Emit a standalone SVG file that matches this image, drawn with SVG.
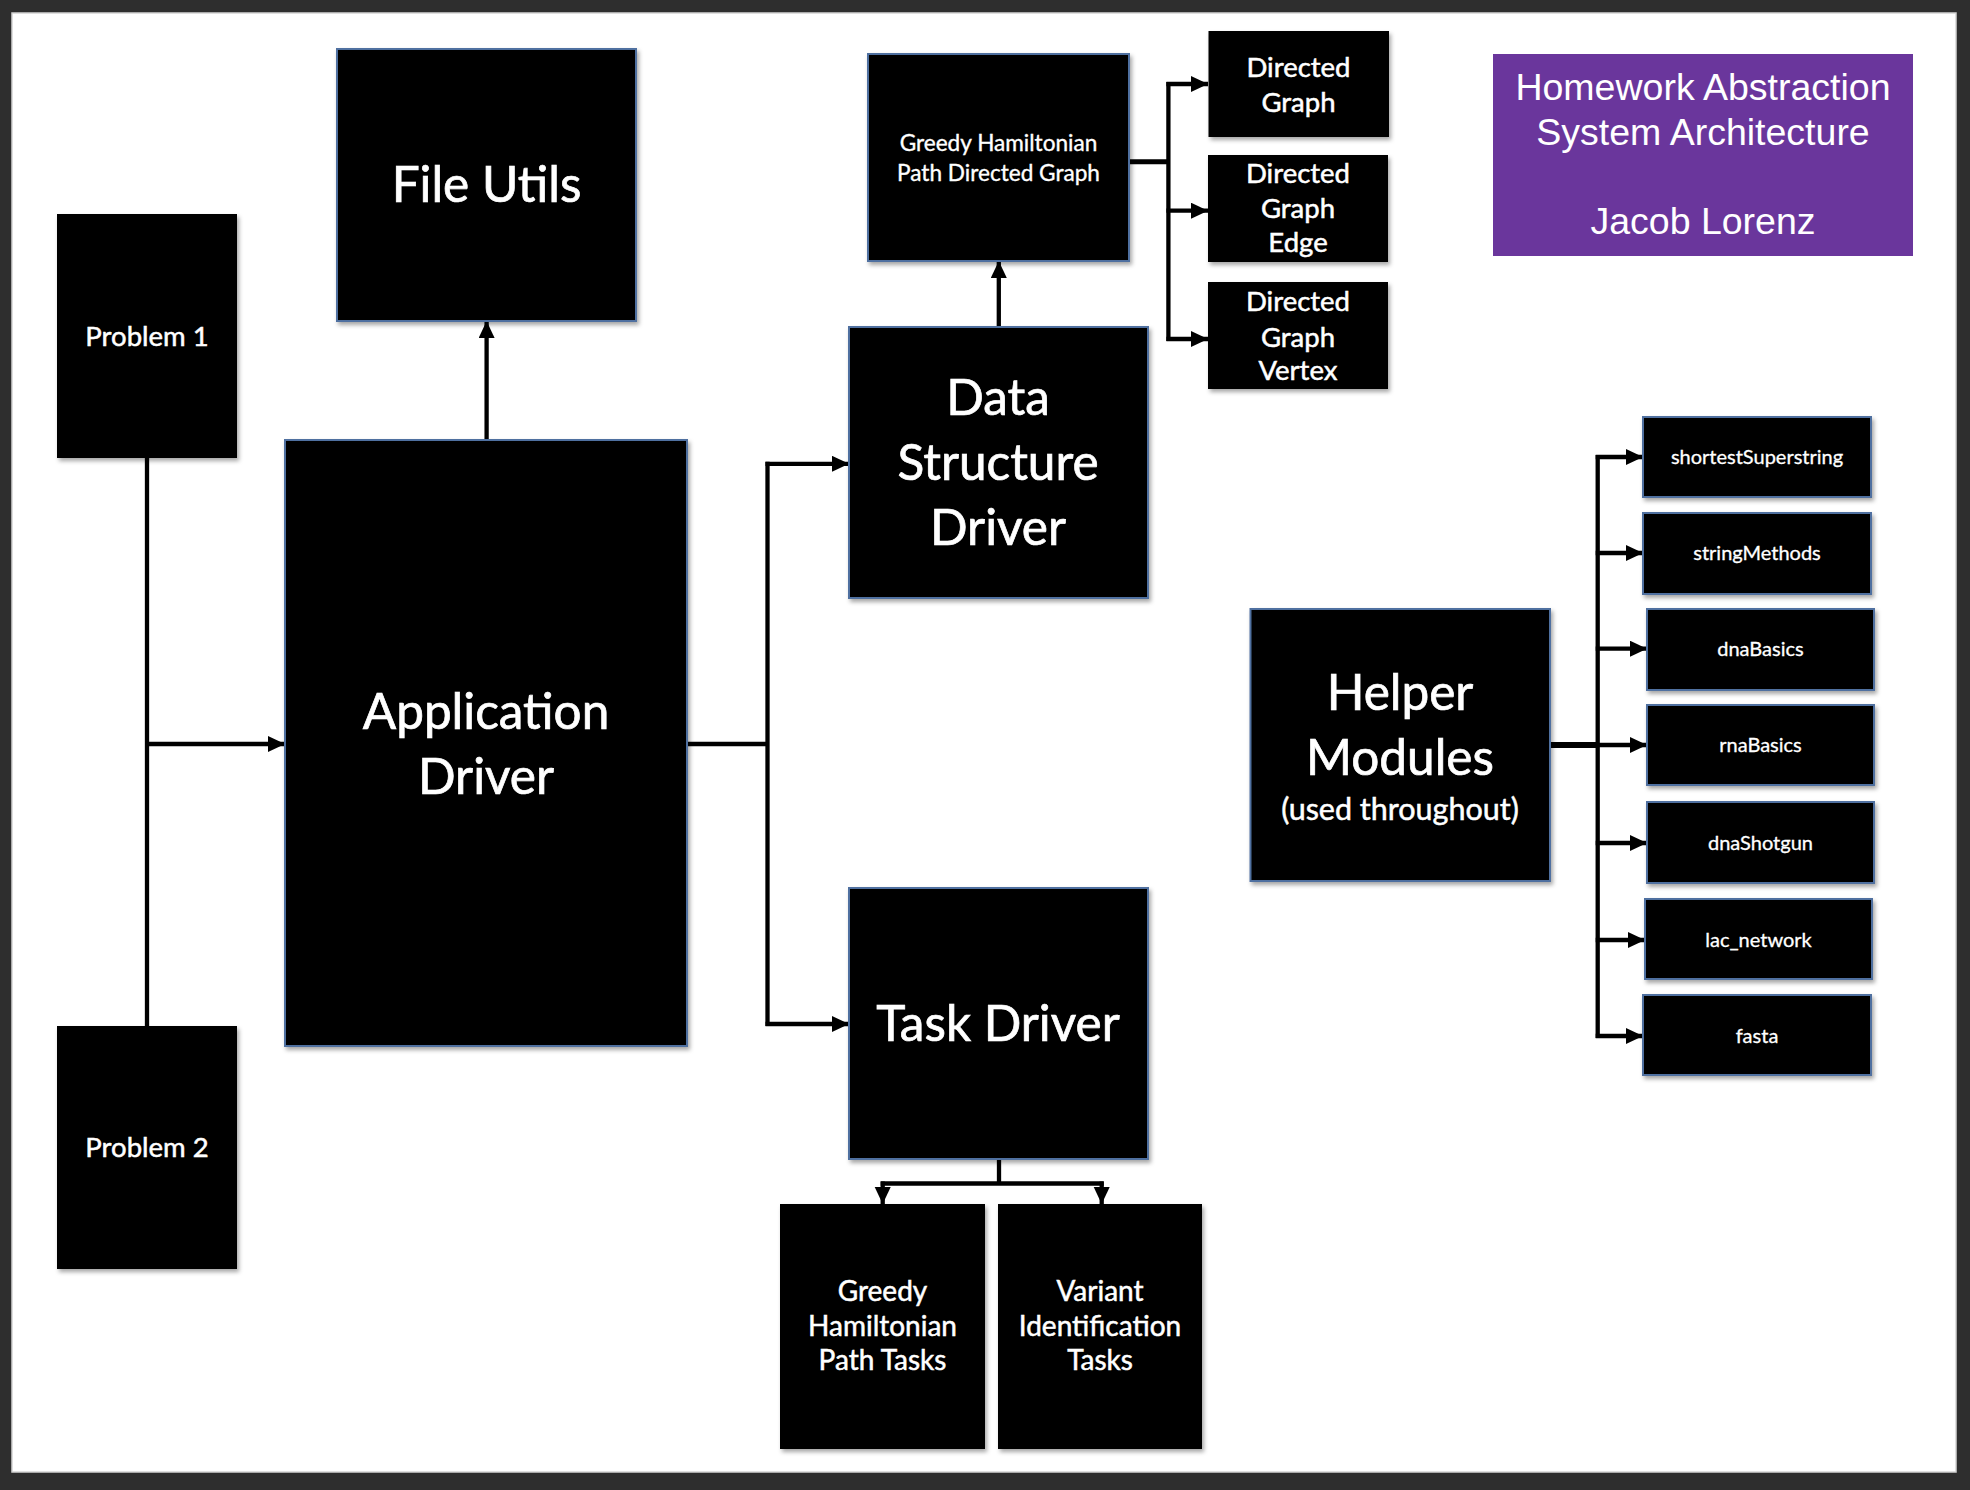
<svg xmlns="http://www.w3.org/2000/svg" width="1970" height="1490" viewBox="0 0 1970 1490">
<style>
.box{fill:#000;stroke:#4f6fa0;stroke-width:2;filter:url(#sh)}
.plain{fill:#000;filter:url(#sh)}
.t{fill:#fff;stroke:#fff;stroke-width:0.5;font-family:Lato,"Open Sans","Noto Sans",sans-serif;text-anchor:middle}
.big{font-size:49.5px;stroke-width:0.7}
.mid{font-size:27.5px}
.sm{font-size:22.6px;stroke-width:0.35}
.xs{font-size:20px;stroke-width:0.3}
.title{fill:#fff;font-family:"Liberation Sans",Arial,sans-serif;font-size:37.5px;text-anchor:middle}
.c{stroke:#000;stroke-width:4.3;fill:none}
.a{marker-end:url(#ah)}
</style>
<defs>
<filter id="sh" x="-10%" y="-10%" width="130%" height="130%">
<feDropShadow dx="2" dy="3" stdDeviation="2" flood-color="#000" flood-opacity="0.35"/>
</filter>
<marker id="ah" markerUnits="userSpaceOnUse" markerWidth="18" markerHeight="17" refX="17" refY="8" orient="auto">
<path d="M0,0 L17,8 L0,16 z" fill="#000"/>
</marker>
</defs>
<rect x="0" y="0" width="1970" height="1490" fill="#2e2e2e"/>
<rect x="12" y="13" width="1944" height="1459" fill="#fff" stroke="#d4d4d4" stroke-width="1.5"/>

<g id="connectors">
<line class="c" x1="147" y1="457" x2="147" y2="1026"/>
<line class="c a" x1="147" y1="744" x2="285" y2="744"/>
<line class="c a" x1="486.6" y1="440" x2="486.6" y2="321"/>
<line class="c" stroke-width="5" x1="687" y1="744" x2="767.5" y2="744"/>
<line class="c" x1="767.5" y1="461.8" x2="767.5" y2="1026"/>
<line class="c a" x1="765.5" y1="463.8" x2="849" y2="463.8"/>
<line class="c a" x1="765.5" y1="1024" x2="849" y2="1024"/>
<line class="c a" x1="998.8" y1="327" x2="998.8" y2="261"/>
<line class="c" style="stroke-width:5" x1="1129" y1="161.7" x2="1168.4" y2="161.7"/>
<line class="c" x1="1168.4" y1="82" x2="1168.4" y2="341"/>
<line class="c a" x1="1166.4" y1="84" x2="1208" y2="84"/>
<line class="c a" x1="1166.4" y1="210.7" x2="1208" y2="210.7"/>
<line class="c a" x1="1166.4" y1="339" x2="1208" y2="339"/>
<line class="c" x1="999" y1="1159" x2="999" y2="1183.5"/>
<line class="c" x1="880.7" y1="1183.5" x2="1103.7" y2="1183.5"/>
<line class="c a" x1="882.7" y1="1181.5" x2="882.7" y2="1204"/>
<line class="c a" x1="1101.7" y1="1181.5" x2="1101.7" y2="1204"/>
<line class="c" style="stroke-width:6" x1="1550" y1="745" x2="1597.7" y2="745"/>
<line class="c" x1="1597.7" y1="455" x2="1597.7" y2="1038"/>
<line class="c a" x1="1595.7" y1="457" x2="1643" y2="457"/>
<line class="c a" x1="1595.7" y1="553" x2="1643" y2="553"/>
<line class="c a" x1="1595.7" y1="648.7" x2="1647" y2="648.7"/>
<line class="c a" x1="1595.7" y1="745" x2="1647" y2="745"/>
<line class="c a" x1="1595.7" y1="843" x2="1647" y2="843"/>
<line class="c a" x1="1595.7" y1="940" x2="1645" y2="940"/>
<line class="c a" x1="1595.7" y1="1036" x2="1643" y2="1036"/>
</g>

<g id="title">
<rect x="1493" y="54" width="420" height="202" fill="#6a369c"/>
<text class="title" x="1703" y="100">Homework Abstraction</text>
<text class="title" x="1703" y="144.5">System Architecture</text>
<text class="title" x="1703" y="234">Jacob Lorenz</text>
</g>

<g id="file-utils">
<rect class="box" x="337" y="49" width="299" height="272"/>
<text class="t big" x="486.5" y="202">File Utils</text>
</g>

<g id="problem-1">
<rect class="plain" x="57" y="214" width="180" height="244"/>
<text class="t mid" x="147" y="346">Problem 1</text>
</g>

<g id="problem-2">
<rect class="plain" x="57" y="1026" width="180" height="243"/>
<text class="t mid" x="147" y="1157">Problem 2</text>
</g>

<g id="application-driver">
<rect class="box" x="285" y="440" width="402" height="606"/>
<text class="t big" x="486" y="729">Application</text>
<text class="t big" x="486" y="794">Driver</text>
</g>

<g id="data-structure-driver">
<rect class="box" x="849" y="327" width="299" height="271"/>
<text class="t big" x="998" y="415">Data</text>
<text class="t big" x="998" y="480">Structure</text>
<text class="t big" x="998" y="545">Driver</text>
</g>

<g id="task-driver">
<rect class="box" x="849" y="888" width="299" height="271"/>
<text class="t big" x="998" y="1041">Task Driver</text>
</g>

<g id="greedy-hp-directed-graph">
<rect class="box" x="868" y="54" width="261" height="207"/>
<text class="t sm" x="998.5" y="150.7">Greedy Hamiltonian</text>
<text class="t sm" x="998.5" y="181">Path Directed Graph</text>
</g>

<g id="directed-graph">
<rect class="plain" x="1208.5" y="31" width="180.5" height="106"/>
<text class="t mid" x="1298.5" y="77">Directed</text>
<text class="t mid" x="1298.5" y="112">Graph</text>
</g>

<g id="directed-graph-edge">
<rect class="plain" x="1208" y="155" width="180" height="107"/>
<text class="t mid" x="1298" y="183">Directed</text>
<text class="t mid" x="1298" y="218">Graph</text>
<text class="t mid" x="1298" y="252">Edge</text>
</g>

<g id="directed-graph-vertex">
<rect class="plain" x="1208" y="282" width="180" height="107"/>
<text class="t mid" x="1298" y="311">Directed</text>
<text class="t mid" x="1298" y="347">Graph</text>
<text class="t mid" x="1298" y="380">Vertex</text>
</g>

<g id="greedy-hp-tasks">
<rect class="plain" x="780" y="1204" width="205" height="245"/>
<text class="t" style="font-size:28px" x="882.5" y="1301">Greedy</text>
<text class="t" style="font-size:28px" x="882.5" y="1336">Hamiltonian</text>
<text class="t" style="font-size:28px" x="882.5" y="1370">Path Tasks</text>
</g>

<g id="variant-identification-tasks">
<rect class="plain" x="998" y="1204" width="204" height="245"/>
<text class="t" style="font-size:28px" x="1100" y="1301">Variant</text>
<text class="t" style="font-size:28px" x="1100" y="1336">Identification</text>
<text class="t" style="font-size:28px" x="1100" y="1370">Tasks</text>
</g>

<g id="helper-modules">
<rect class="box" x="1250.5" y="609" width="299.5" height="272"/>
<text class="t big" x="1400" y="710">Helper</text>
<text class="t big" x="1400" y="775">Modules</text>
<text class="t" style="font-size:30.5px" x="1400" y="820">(used throughout)</text>
</g>

<g id="shortestSuperstring">
<rect class="box" x="1643" y="417" width="228" height="80"/>
<text class="t xs" x="1757" y="464">shortestSuperstring</text>
</g>
<g id="stringMethods">
<rect class="box" x="1643" y="513" width="228" height="81"/>
<text class="t xs" x="1757" y="560">stringMethods</text>
</g>
<g id="dnaBasics">
<rect class="box" x="1647" y="609" width="227" height="81"/>
<text class="t xs" x="1760.5" y="656">dnaBasics</text>
</g>
<g id="rnaBasics">
<rect class="box" x="1647" y="705" width="227" height="80"/>
<text class="t xs" x="1760.5" y="752">rnaBasics</text>
</g>
<g id="dnaShotgun">
<rect class="box" x="1647" y="802" width="227" height="81"/>
<text class="t xs" x="1760.5" y="850">dnaShotgun</text>
</g>
<g id="lac_network">
<rect class="box" x="1645" y="899" width="227" height="80"/>
<text class="t xs" x="1758.5" y="947">lac_network</text>
</g>
<g id="fasta">
<rect class="box" x="1643" y="995" width="228" height="80"/>
<text class="t xs" x="1757" y="1043">fasta</text>
</g>
</svg>
